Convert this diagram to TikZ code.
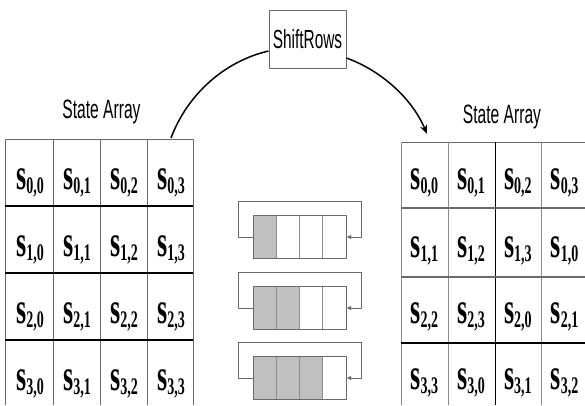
\documentclass[tikz,border=0pt]{standalone}
\usepackage{fontspec}
\setmainfont{Liberation Serif}
\newfontfamily\labelfont{Liberation Sans}
\usetikzlibrary{arrows.meta,calc}
\definecolor{cellgray}{HTML}{C0C0C0}
\definecolor{rule}{HTML}{6A6A6A}
\definecolor{softrule}{HTML}{8C8C8C}
% tall, narrow lettering
\newcommand{\tallt}[1]{\scalebox{1}[1.7]{#1}}
% one state byte s_{i,j}
\newcommand{\statebyte}[2]{\tallt{\fontsize{26}{26}\selectfont\bfseries s\raisebox{-2.4pt}{\fontsize{14}{14}\selectfont #1,#2}}}
\begin{document}
\begin{tikzpicture}[x=1pt,y=-1pt,
  vrule/.style={draw=rule, line width=1pt},
  hrule/.style={draw=black, line width=1.6pt},
  toprule/.style={draw=rule, line width=1pt},
  celltext/.style={anchor=base, inner sep=0pt},
  caption/.style={anchor=base, inner sep=0pt, font=\labelfont\fontsize{15.6}{16}\selectfont},
  opbox/.style={draw=rule, line width=0.9pt, fill=white, minimum width=77pt, minimum height=58pt, inner sep=0pt, font=\labelfont\fontsize{15.4}{16}\selectfont},
  shiftarc/.style={draw=black, line width=1.5pt},
  rowbox/.style={inner sep=0pt, minimum width=92pt, minimum height=42pt},
  divider/.style={draw=softrule, line width=0.8pt},
  rowborder/.style={draw=rule, line width=0.9pt},
  wrap/.style={draw=rule, line width=0.8pt, -{Latex[length=5pt,width=4.5pt]}}]
\useasboundingbox (0,0) rectangle (585,405);
\clip (0,0) rectangle (585,405);

% ---------- left state array ----------
\draw[toprule] (5,139) -- (193,139);
\foreach \x in {5,53,100,147,193} \draw[vrule] (\x,139) -- (\x,405);
\foreach \y in {206,273,340} \draw[hrule] (5,\y) -- (193,\y);
\foreach \r in {0,...,3}
  \foreach \c in {0,...,3}
    \node[celltext] (L-\r-\c) at ({30+47*\c},{189+67*\r}) {\statebyte{\r}{\c}};
\node[caption] (capL) at (101.5,118) {\tallt{State Array}};

% ---------- right state array ----------
\draw[toprule] (401,142) -- (588,142);
\foreach \x in {401,448,541} \draw[draw=softrule, line width=1pt] (\x,142) -- (\x,405);
\draw[vrule, draw=black] (495,142) -- (495,405);
\foreach \y in {208,277} \draw[draw=rule, line width=1.1pt] (401,\y) -- (588,\y);
\draw[hrule] (401,343) -- (588,343);
\foreach \r/\yb in {0/189,1/257,2/323,3/389}
  \foreach \c in {0,...,3} {
    \pgfmathtruncatemacro\k{mod(\c+\r,4)}
    \node[celltext] (R-\r-\c) at ({424.4+46.75*\c},\yb) {\statebyte{\r}{\k}};
  }
\node[caption] (capR) at (502,123) {\tallt{State Array}};

% ---------- operation and its arc ----------
\node[opbox] (sr) at (307.5,39) {\tallt{ShiftRows}};
\coordinate (arcL) at (171,138);
\coordinate (arcR) at (427,134);
\draw[shiftarc] (arcL) .. controls +(16,-43) and +(-44.5,10.3) .. ([yshift=-12pt]sr.west);
\draw[shiftarc, -{Stealth[length=9pt,width=7pt]}] ([yshift=-19pt]sr.east) .. controls +(35.4,12.8) and +(-14.5,-34.8) .. (arcR);

% ---------- rotating rows ----------
\foreach \k/\top in {0/216,1/287,2/357} {
  \node[rowbox] (w\k) at (300,{\top+21}) {};
  \fill[cellgray] (w\k.north west) rectangle ([xshift={23*(\k+1)}]w\k.south west);
  \foreach \i in {1,2,3}
    \draw[divider] ([xshift={23*\i}]w\k.north west) -- ([xshift={23*\i}]w\k.south west);
  \draw[rowborder] (w\k.north west) rectangle (w\k.south east);
  \draw[wrap] (w\k.west) -- ++(-15,0) |- ($(w\k.north east)+(15,-14)$) |- (w\k.east);
}
\end{tikzpicture}
\end{document}
